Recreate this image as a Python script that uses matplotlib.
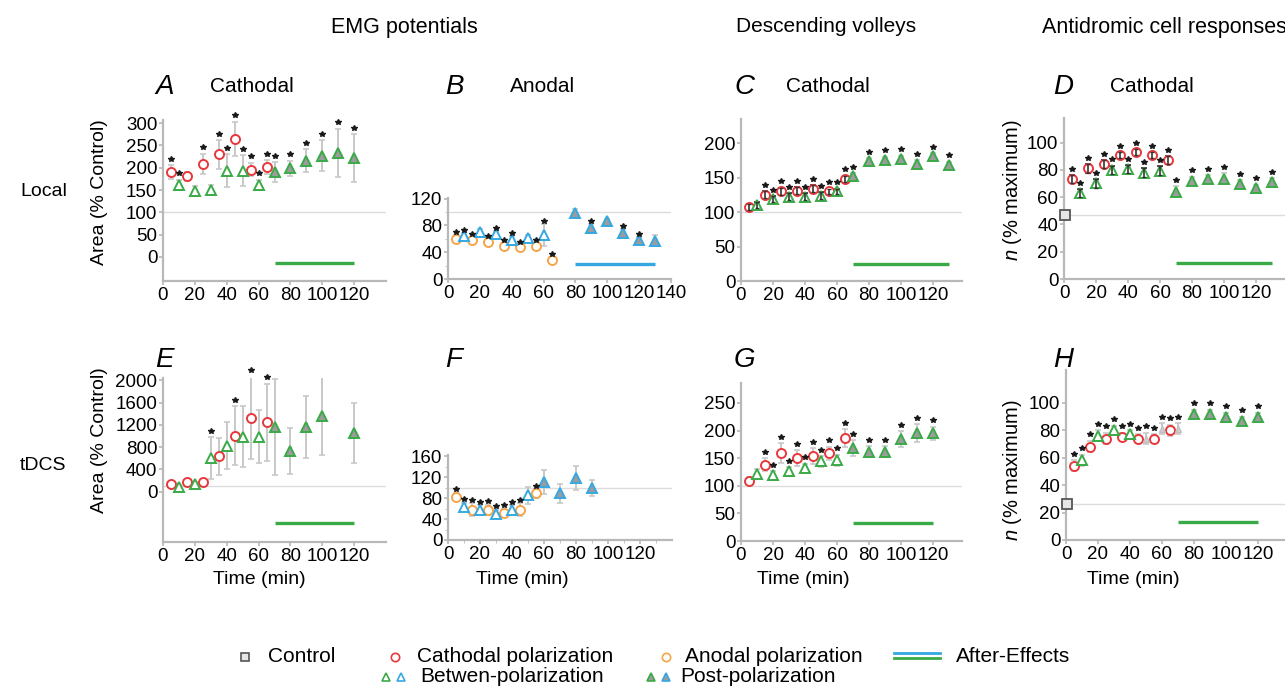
import numpy as np
import matplotlib
matplotlib.use('Agg')
import matplotlib.pyplot as plt

plt.rcParams['font.family'] = ['Liberation Sans', 'DejaVu Sans']
plt.rcParams['mathtext.fontset'] = 'custom'
plt.rcParams['mathtext.it'] = 'Liberation Sans:italic'
plt.rcParams['mathtext.rm'] = 'Liberation Sans'

W, H = 1285, 686

RED = '#e8383d'
ORANGE = '#f5a54a'
GREEN = '#3aaa48'
BLUE = '#35a8e2'
FILL = '#9c9c9c'
ERRC = '#c8c8c8'

pol_t = [5, 15, 25, 35, 45, 55, 65]
btw_t = [10, 20, 30, 40, 50, 60]
post_t = [70, 80, 90, 100, 110, 120]

# A  EMG, local, cathodal
a_pol_y = [190, 181, 209, 230, 265, 196, 202]
a_pol_e = [15, 10, 22, 32, 38, 15, 15]
a_pol_s = [1, 0, 1, 1, 1, 1, 1]
a_btw_y = [161, 148, 150, 193, 193, 161]
a_btw_e = [12, 12, 12, 37, 35, 12]
a_btw_s = [1, 0, 0, 1, 1, 1]
a_post_y = [190, 199, 216, 227, 233, 221]
a_post_e = [22, 17, 26, 35, 54, 54]
a_post_s = [1, 1, 1, 1, 1, 1]

# B  EMG, local, anodal
b_pol_y = [60, 59, 56, 50, 48, 50, 28]
b_pol_e = [5, 4, 4, 4, 3, 4, 4]
b_pol_s = [1, 1, 1, 1, 1, 1, 1]
b_btw_y = [64, 70, 67, 59, 61, 66]
b_btw_e = [5, 4, 4, 5, 4, 16]
b_btw_s = [1, 0, 1, 1, 0, 1]
b_post_t = [80, 90, 100, 110, 120, 130]
b_post_y = [99, 76, 86, 69, 58, 57]
b_post_e = [5, 6, 4, 5, 5, 8]
b_post_s = [0, 1, 0, 1, 1, 0]

# C  descending volleys, local
c_pol_y = [107, 125, 130, 131, 134, 130, 148]
c_pol_e = [4, 5, 5, 5, 5, 4, 5]
c_pol_s = [0, 1, 1, 1, 1, 1, 1]
c_btw_y = [110, 119, 122, 122, 124, 130]
c_btw_e = [4, 4, 5, 5, 5, 4]
c_btw_s = [0, 1, 1, 1, 1, 1]
c_post_t = [70, 80, 90, 100, 110, 120, 130]
c_post_y = [152, 174, 175, 177, 170, 181, 168]
c_post_e = [4, 4, 5, 5, 5, 4, 5]
c_post_s = [1, 1, 1, 1, 1, 1, 1]

# D  antidromic, local
d_ctl = 47
d_pol_y = [73, 81, 84, 91, 93, 91, 87]
d_pol_e = [3, 3, 3, 2, 2, 2, 3]
d_pol_s = [1, 1, 1, 1, 1, 1, 1]
d_btw_y = [63, 70, 80, 80.5, 78, 79.5]
d_btw_e = [3, 3, 3, 3, 3, 3]
d_btw_s = [1, 1, 1, 1, 1, 1]
d_post_t = [70, 80, 90, 100, 110, 120, 130]
d_post_y = [64, 72, 73, 73.5, 69.5, 67, 71]
d_post_e = [4, 3, 3, 4, 3, 2, 3]
d_post_s = [1, 1, 1, 1, 1, 1, 1]

# E  EMG, tDCS
e_pol_y = [138, 180, 180, 637, 1003, 1321, 1249]
e_pol_e = [40, 40, 40, 330, 530, 740, 690]
e_pol_s = [0, 0, 0, 0, 1, 1, 1]
e_btw_y = [84, 138, 600, 823, 991, 991]
e_btw_e = [30, 30, 375, 420, 555, 470]
e_btw_s = [0, 0, 1, 0, 0, 0]
e_post_t = [70, 80, 90, 100, 120]
e_post_y = [1165, 733, 1159, 1363, 1051]
e_post_e = [855, 410, 550, 705, 540]
e_post_s = [0, 0, 0, 0, 0]

# F  EMG, tDCS anodal
f_pol_t = [5, 15, 25, 35, 45, 55]
f_pol_y = [82, 58, 57, 52, 58, 89]
f_pol_e = [8, 12, 10, 8, 12, 8]
f_pol_s = [1, 1, 1, 1, 1, 1]
f_btw_t = [10, 20, 30, 40, 50]
f_btw_y = [63, 58, 50, 58, 85]
f_btw_e = [8, 8, 8, 8, 16]
f_btw_s = [1, 1, 1, 1, 0]
f_post_t = [60, 70, 80, 90]
f_post_y = [110, 89, 118, 99]
f_post_e = [23, 18, 23, 16]
f_post_s = [0, 0, 0, 0]

# G  descending volleys, tDCS
g_pol_y = [109, 138, 159, 150, 154, 159, 186]
g_pol_e = [6, 12, 18, 14, 14, 12, 16]
g_pol_s = [0, 1, 1, 1, 1, 1, 1]
g_btw_y = [122, 119, 126, 132, 144, 146]
g_btw_e = [8, 8, 8, 8, 10, 10]
g_btw_s = [0, 1, 1, 1, 1, 1]
g_post_y = [168, 162, 162, 185, 195, 195]
g_post_e = [14, 10, 10, 14, 16, 12]
g_post_s = [1, 1, 1, 1, 1, 1]

# H  antidromic, tDCS
h_ctl = 26
h_pol_y = [54, 68, 74, 75, 74, 74, 80]
h_pol_e = [4, 4, 4, 3, 3, 3, 4]
h_pol_s = [1, 1, 1, 1, 1, 1, 1]
h_btw_t = [10, 20, 30, 40]
h_btw_y = [58, 76, 80, 77]
h_btw_e = [4, 4, 3, 3]
h_btw_s = [1, 1, 1, 1]
h_gray_t = [50, 60, 70]
h_gray_y = [74, 81, 81]
h_gray_e = [4, 4, 4]
h_gray_s = [1, 1, 1]
h_post_t = [80, 90, 100, 110, 120]
h_post_y = [92, 92, 90, 87, 90]
h_post_e = [3, 3, 3, 3, 3]
h_post_s = [1, 1, 1, 1, 1]

fig = plt.figure(figsize=(W / 100, H / 100), dpi=100)


def make_ax(l, r, t, b, xlim, ylim, yticks, xticks):
    ax = fig.add_axes([l / W, 1 - b / H, (r - l) / W, (b - t) / H])
    ax.set_xlim(*xlim)
    ax.set_ylim(*ylim)
    ax.set_yticks(yticks)
    ax.set_xticks(xticks)
    for sp in ['top', 'right']:
        ax.spines[sp].set_visible(False)
    for sp in ['left', 'bottom']:
        ax.spines[sp].set_color('#b8b8b8')
        ax.spines[sp].set_linewidth(1.6)
    ax.tick_params(labelsize=13.5, colors='#b8b8b8', labelcolor='black',
                   length=3, width=1.2, pad=1)
    ax.patch.set_alpha(0)
    return ax


def series(ax, t, y, e, s, kind, color, errc=ERRC):
    t = np.asarray(t, float)
    y = np.asarray(y, float)
    e = np.asarray(e, float)
    s = np.asarray(s, bool)
    ax.errorbar(t, y, yerr=e, fmt='none', ecolor=errc, elinewidth=1.4,
                capsize=2, capthick=1.2, zorder=2)
    if kind == 'pol':
        ax.plot(t, y, 'o', ms=6.5, mfc='white', mec=color, mew=1.4, ls='none', zorder=3)
    elif kind == 'btw':
        ax.plot(t, y, '^', ms=6.8, mfc='white', mec=color, mew=1.4, ls='none', zorder=3)
    elif kind == 'post':
        ax.plot(t, y, '^', ms=6.8, mfc=FILL, mec=color, mew=1.4, ls='none', zorder=3)
    elif kind == 'gray':
        ax.plot(t, y, '^', ms=5, mfc='#d0d0d0', mec='#c0c0c0', mew=1, ls='none', zorder=3)
    if kind in ('pol', 'btw') and errc != ERRC:
        ax.errorbar(t, y, yerr=e, fmt='none', ecolor=errc, elinewidth=1.2,
                    capsize=1.5, zorder=4)
    lo, hi = ax.get_ylim()
    off = 0.04 * (hi - lo)
    ax.plot(t[s], y[s] + e[s] + off, '*', ms=4, color='#1a1a1a', ls='none',
            zorder=5, clip_on=False)


def refline(ax, yv):
    ax.axhline(yv, color='#dcdcdc', lw=1, zorder=1)


def after(ax, x0, x1, yv, color):
    ax.plot([x0, x1], [yv, yv], color=color, lw=2.4, solid_capstyle='butt', zorder=2)


xt = list(range(0, 121, 20))

# A
ax = make_ax(163, 386, 120, 281, (0, 140), (-54, 307), list(range(0, 301, 50)), xt)
refline(ax, 100)
series(ax, pol_t, a_pol_y, a_pol_e, a_pol_s, 'pol', RED)
series(ax, btw_t, a_btw_y, a_btw_e, a_btw_s, 'btw', GREEN)
series(ax, post_t, a_post_y, a_post_e, a_post_s, 'post', GREEN)
after(ax, 70, 120, -13, GREEN)

# B
ax = make_ax(448, 671, 198, 279, (0, 140), (0, 121), [0, 40, 80, 120], list(range(0, 141, 20)))
ax.set_yticks([20, 60, 100], minor=True)
ax.tick_params(which='minor', length=2, color='#b8b8b8')
refline(ax, 100)
series(ax, pol_t, b_pol_y, b_pol_e, b_pol_s, 'pol', ORANGE)
series(ax, btw_t, b_btw_y, b_btw_e, b_btw_s, 'btw', BLUE)
series(ax, b_post_t, b_post_y, b_post_e, b_post_s, 'post', BLUE)
after(ax, 80, 130, 23, BLUE)

# C
ax = make_ax(741, 962, 119, 281, (0, 138), (0, 235), list(range(0, 201, 50)), xt)
refline(ax, 100)
series(ax, pol_t, c_pol_y, c_pol_e, c_pol_s, 'pol', RED, '#333333')
series(ax, btw_t, c_btw_y, c_btw_e, c_btw_s, 'btw', GREEN, '#333333')
series(ax, c_post_t, c_post_y, c_post_e, c_post_s, 'post', GREEN)
after(ax, 70, 130, 25, GREEN)

# D
ax = make_ax(1064, 1285, 118, 279, (0, 138), (0, 118), list(range(0, 101, 20)), xt)
refline(ax, d_ctl)
ax.plot([0.6], [d_ctl], 's', ms=6.5, mfc='#e6e6e6', mec='#555555', mew=1.3, clip_on=False, zorder=4)
series(ax, pol_t, d_pol_y, d_pol_e, d_pol_s, 'pol', RED, '#333333')
series(ax, btw_t, d_btw_y, d_btw_e, d_btw_s, 'btw', GREEN, '#333333')
series(ax, d_post_t, d_post_y, d_post_e, d_post_s, 'post', GREEN)
after(ax, 70, 130, 12, GREEN)

# E
ax = make_ax(163, 386, 378, 542, (0, 140), (-900, 2040), list(range(0, 2001, 400)), xt)
refline(ax, 100)
series(ax, pol_t, e_pol_y, e_pol_e, e_pol_s, 'pol', RED)
series(ax, btw_t, e_btw_y, e_btw_e, e_btw_s, 'btw', GREEN)
series(ax, e_post_t, e_post_y, e_post_e, e_post_s, 'post', GREEN)
after(ax, 70, 120, -553, GREEN)

# F
ax = make_ax(448, 672, 455, 540, (0, 140), (0, 162), list(range(0, 161, 40)), xt)
ax.set_yticks([20, 60, 100, 140], minor=True)
ax.set_xticks([10, 30, 50, 70, 90, 110, 130], minor=True)
ax.tick_params(which='minor', length=2, color='#b8b8b8')
refline(ax, 100)
series(ax, f_pol_t, f_pol_y, f_pol_e, f_pol_s, 'pol', ORANGE)
series(ax, f_btw_t, f_btw_y, f_btw_e, f_btw_s, 'btw', BLUE)
series(ax, f_post_t, f_post_y, f_post_e, f_post_s, 'post', BLUE)

# G
ax = make_ax(741, 962, 383, 541, (0, 138), (0, 286), list(range(0, 251, 50)), xt)
refline(ax, 100)
series(ax, pol_t, g_pol_y, g_pol_e, g_pol_s, 'pol', RED)
series(ax, btw_t, g_btw_y, g_btw_e, g_btw_s, 'btw', GREEN)
series(ax, post_t, g_post_y, g_post_e, g_post_s, 'post', GREEN)
after(ax, 70, 120, 33, GREEN)

# H
ax = make_ax(1066, 1285, 370, 540, (0, 137), (0, 124), list(range(0, 101, 20)), xt)
refline(ax, h_ctl)
ax.plot([0.6], [h_ctl], 's', ms=6.5, mfc='#e6e6e6', mec='#555555', mew=1.3, clip_on=False, zorder=4)
series(ax, pol_t, h_pol_y, h_pol_e, h_pol_s, 'pol', RED)
series(ax, h_btw_t, h_btw_y, h_btw_e, h_btw_s, 'btw', GREEN)
series(ax, h_gray_t, h_gray_y, h_gray_e, h_gray_s, 'gray', GREEN)
series(ax, h_post_t, h_post_y, h_post_e, h_post_s, 'post', GREEN)
after(ax, 70, 120, 13, GREEN)


def ftext(x, y, s, **kw):
    fig.text(x / W, 1 - y / H, s, **kw)


# headers and labels
ftext(404, 27, 'EMG potentials', ha='center', va='center', fontsize=15.5)
ftext(826, 27, 'Descending volleys', ha='center', va='center', fontsize=15)
ftext(1042, 27, 'Antidromic cell responses', ha='left', va='center', fontsize=15.5)
ftext(20, 192, 'Local', ha='left', va='center', fontsize=14)
ftext(20, 465, 'tDCS', ha='left', va='center', fontsize=14)

for lx, ly, letter in [(155, 87, 'A'), (445, 87, 'B'), (734, 87, 'C'), (1053, 87, 'D'),
                       (155, 360, 'E'), (445, 360, 'F'), (734, 360, 'G'), (1053, 360, 'H')]:
    ftext(lx, ly, letter, ha='left', va='center', fontsize=20, style='italic')
for lx, word in [(210, 'Cathodal'), (510, 'Anodal'), (786, 'Cathodal'), (1110, 'Cathodal')]:
    ftext(lx, 87, word, ha='left', va='center', fontsize=15)

ftext(100, 192, 'Area (% Control)', ha='center', va='center', rotation=90, fontsize=14)
ftext(100, 440, 'Area (% Control)', ha='center', va='center', rotation=90, fontsize=14)
ftext(1012, 190, '$n$ (% maximum)', ha='center', va='center', rotation=90, fontsize=14.5)
ftext(1012, 470, '$n$ (% maximum)', ha='center', va='center', rotation=90, fontsize=14.5)
for cx in [259, 522, 803, 1133]:
    ftext(cx, 580, 'Time (min)', ha='center', va='center', fontsize=14)

# legend
lg = fig.add_axes([0, 0, 1, 1])
lg.set_xlim(0, W)
lg.set_ylim(H, 0)
lg.axis('off')
lg.plot([245], [657], 's', ms=6, mfc='#e6e6e6', mec='#555555', mew=1.2)
lg.plot([395], [657], 'o', ms=6, mfc='white', mec=RED, mew=1.2)
lg.plot([666], [657], 'o', ms=6, mfc='white', mec=ORANGE, mew=1.2)
lg.plot([894, 940], [653, 653], color=BLUE, lw=2)
lg.plot([894, 940], [658, 658], color=GREEN, lw=2)
lg.plot([386], [677], '^', ms=6, mfc='white', mec=GREEN, mew=1.2)
lg.plot([401], [677], '^', ms=6, mfc='white', mec=BLUE, mew=1.2)
lg.plot([651], [677], '^', ms=6, mfc=FILL, mec=GREEN, mew=1.2)
lg.plot([666], [677], '^', ms=6, mfc=FILL, mec=BLUE, mew=1.2)
for tx, ty, s in [(268, 657, 'Control'), (417, 657, 'Cathodal polarization'),
                  (685, 657, 'Anodal polarization'), (956, 657, 'After-Effects'),
                  (420, 677, 'Betwen-polarization'), (680, 677, 'Post-polarization')]:
    lg.text(tx, ty, s, ha='left', va='center', fontsize=15)

fig.savefig('out.png', dpi=100)
